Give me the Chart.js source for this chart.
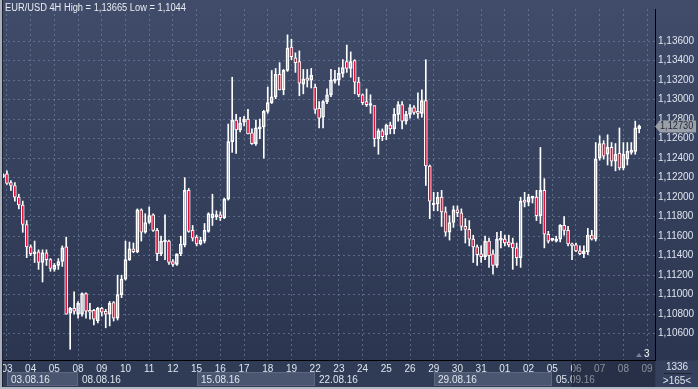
<!DOCTYPE html>
<html>
<head>
<meta charset="utf-8">
<script src="https://cdn.jsdelivr.net/npm/chart.js@4.4.1/dist/chart.umd.min.js"></script>
<style>
  html, body { margin: 0; padding: 0; background: #2f3a55; }
  canvas { display: block; }
</style>
</head>
<body>
<canvas id="chart" width="698" height="389"></canvas>
<script>
// EUR/USD 4H candles, 02.08.16 20:00 .. 08.09.16
const opens = [
  1.1221,1.1224,1.1215,1.1212,1.1200,1.1192,1.1172,1.1149,1.1142,1.1144,
  1.1133,1.1143,1.1136,1.1126,1.1130,1.1134,1.1149,1.1081,1.1086,1.1080,
  1.1080,1.1101,1.1084,1.1084,1.1073,1.1086,1.1083,1.1080,1.1092,1.1076,
  1.1100,1.1116,1.1136,1.1147,1.1144,1.1187,1.1164,1.1174,1.1182,1.1166,
  1.1142,1.1154,1.1155,1.1134,1.1131,1.1142,1.1151,1.1207,1.1166,1.1159,
  1.1152,1.1155,1.1165,1.1179,1.1180,1.1182,1.1179,1.1198,1.1257,1.1279,
  1.1269,1.1277,1.1280,1.1266,1.1255,1.1270,1.1272,1.1288,1.1297,1.1303,
  1.1326,1.1310,1.1330,1.1354,1.1343,1.1339,1.1316,1.1322,1.1320,1.1313,
  1.1291,1.1282,1.1298,1.1305,1.1319,1.1320,1.1327,1.1339,1.1332,1.1340,
  1.1318,1.1305,1.1298,1.1294,1.1294,1.1260,1.1268,1.1264,1.1274,1.1270,
  1.1285,1.1295,1.1278,1.1285,1.1292,1.1287,1.1286,1.1299,1.1232,1.1192,
  1.1193,1.1200,1.1185,1.1164,1.1174,1.1187,1.1184,1.1170,1.1167,1.1157,
  1.1149,1.1142,1.1139,1.1155,1.1142,1.1130,1.1156,1.1157,1.1154,1.1153,
  1.1148,1.1138,1.1197,1.1195,1.1199,1.1200,1.1181,1.1207,1.1162,1.1156,
  1.1155,1.1157,1.1171,1.1166,1.1152,1.1151,1.1145,1.1142,1.1144,1.1161,
  1.1157,1.1240,1.1255,1.1244,1.1251,1.1237,1.1245,1.1230,1.1239,1.1246,
  1.1247,1.1270
]
const highs = [
  1.1224,1.1227,1.1217,1.1215,1.1203,1.1196,1.1176,1.1151,1.1155,1.1146,
  1.1146,1.1146,1.1137,1.1132,1.1137,1.1150,1.1159,1.1087,1.1103,1.1093,
  1.1102,1.1102,1.1091,1.1085,1.1087,1.1087,1.1085,1.1093,1.1093,1.1120,
  1.1120,1.1155,1.1154,1.1153,1.1188,1.1188,1.1183,1.1190,1.1183,1.1168,
  1.1160,1.1182,1.1156,1.1136,1.1140,1.1160,1.1220,1.1209,1.1171,1.1161,
  1.1159,1.1173,1.1184,1.1203,1.1186,1.1185,1.1199,1.1275,1.1323,1.1285,
  1.1282,1.1283,1.1290,1.1270,1.1279,1.1280,1.1289,1.1313,1.1330,1.1332,
  1.1338,1.1331,1.13665,1.1362,1.1348,1.1350,1.1331,1.1331,1.1332,1.1316,
  1.1298,1.1299,1.1311,1.1331,1.1330,1.1333,1.1341,1.1356,1.1349,1.1341,
  1.1323,1.1306,1.1311,1.1305,1.1294,1.1270,1.1270,1.1275,1.1277,1.1291,
  1.1298,1.1298,1.1288,1.1295,1.1294,1.1307,1.1310,1.1341,1.1233,1.1205,
  1.1205,1.1207,1.1190,1.1181,1.1191,1.1191,1.1188,1.1178,1.1176,1.1161,
  1.1151,1.1150,1.1160,1.1158,1.1146,1.1164,1.1165,1.1161,1.1161,1.1158,
  1.1153,1.1200,1.1205,1.1203,1.1201,1.1207,1.1251,1.1219,1.1165,1.1157,
  1.1160,1.1172,1.1180,1.1170,1.1153,1.1153,1.1150,1.1150,1.1168,1.1166,
  1.1256,1.1263,1.1258,1.1264,1.1256,1.1255,1.1271,1.1256,1.1256,1.1256,
  1.1278,1.1274
]
const lows = [
  1.1220,1.1213,1.1207,1.1196,1.1188,1.1164,1.1138,1.1140,1.1133,1.1126,
  1.1113,1.1130,1.1124,1.1124,1.1126,1.1129,1.1080,1.1044,1.1080,1.1076,
  1.1078,1.1076,1.1075,1.1069,1.1071,1.1078,1.1066,1.1068,1.1073,1.1074,
  1.1097,1.1115,1.1135,1.1143,1.1143,1.1155,1.1163,1.1173,1.1165,1.1135,
  1.1140,1.1136,1.1131,1.1129,1.1130,1.1140,1.1149,1.1164,1.1155,1.1150,
  1.1151,1.1153,1.1164,1.1171,1.1177,1.1176,1.1178,1.1197,1.1246,1.1245,
  1.1267,1.1273,1.1265,1.1254,1.1253,1.1260,1.1240,1.1286,1.1296,1.1301,
  1.1310,1.1305,1.1329,1.1341,1.1328,1.1304,1.1306,1.1313,1.1312,1.1286,
  1.1271,1.1271,1.1296,1.1303,1.1317,1.1315,1.1323,1.1328,1.1323,1.1306,
  1.1303,1.1295,1.1293,1.1286,1.1252,1.1244,1.1258,1.1259,1.1265,1.1265,
  1.1278,1.1270,1.1275,1.1281,1.1285,1.1281,1.1282,1.1212,1.1178,1.1186,
  1.1186,1.1170,1.1160,1.1156,1.1169,1.1180,1.1166,1.1153,1.1150,1.1133,
  1.1130,1.1133,1.1136,1.1128,1.1121,1.1128,1.1148,1.1150,1.1149,1.1126,
  1.1130,1.1128,1.1190,1.1191,1.1194,1.1176,1.1173,1.1148,1.1153,1.1155,
  1.1154,1.1154,1.1161,1.1150,1.1136,1.1144,1.1141,1.1138,1.1141,1.1156,
  1.1155,1.1238,1.1239,1.1233,1.1232,1.1227,1.1228,1.1228,1.1233,1.1244,
  1.1244,1.1266
]
const closes = [
  1.1223,1.1214,1.1212,1.1200,1.1192,1.1172,1.1149,1.1142,1.1144,1.1133,
  1.1143,1.1136,1.1127,1.1130,1.1134,1.1148,1.1080,1.1086,1.1083,1.1091,
  1.1101,1.1083,1.1082,1.1075,1.1086,1.1082,1.1080,1.1091,1.1076,1.1100,
  1.1116,1.1136,1.1147,1.1144,1.1187,1.1164,1.1174,1.1181,1.1166,1.1142,
  1.1155,1.1156,1.1133,1.1131,1.1142,1.1152,1.1207,1.1165,1.1158,1.1152,
  1.1156,1.1166,1.1183,1.1183,1.1182,1.1179,1.1198,1.1257,1.1279,1.1269,
  1.1276,1.1280,1.1265,1.1255,1.1271,1.1272,1.1288,1.1297,1.1303,1.1326,
  1.1310,1.1330,1.1353,1.1344,1.1338,1.1317,1.1321,1.1320,1.1325,1.1290,
  1.1281,1.1298,1.1305,1.1320,1.1320,1.1327,1.1333,1.1332,1.1339,1.1318,
  1.1305,1.1297,1.1295,1.1295,1.1260,1.1268,1.1262,1.1274,1.1270,1.1285,
  1.1295,1.1278,1.1285,1.1292,1.1287,1.1286,1.1299,1.1232,1.1196,1.1194,
  1.1200,1.1185,1.1164,1.1174,1.1187,1.1184,1.1170,1.1167,1.1157,1.1149,
  1.1141,1.1139,1.1155,1.1140,1.1130,1.1157,1.1158,1.1153,1.1151,1.1148,
  1.1138,1.1196,1.1195,1.1200,1.1200,1.1181,1.1207,1.1162,1.1155,1.1156,
  1.1157,1.1171,1.1166,1.1152,1.1150,1.1145,1.1142,1.1145,1.1161,1.1157,
  1.1239,1.1255,1.1242,1.1251,1.1237,1.1244,1.1230,1.1244,1.1247,1.1247,
  1.1271,1.1273
]

// x axis: one slot per 4H bar, a few empty slots on the right
const slotCount = 166
const firstDaySlot = 1          // 03.08 00:00
const barsPerDay = 6
const dayLabels = ["03","04","05","08","09","10","11","12","15","16","17","18","19","22",
                   "23","24","25","26","29","30","31","01","02","05","06","07","08","09"]
const weekLabels = ["03.08.16","08.08.16","15.08.16","22.08.16","29.08.16","05.09.16"]
const weekStartDay = [0, 3, 8, 13, 18, 23]   // index into dayLabels
const yTicks = [1.106,1.108,1.110,1.112,1.114,1.116,1.118,1.120,1.122,1.124,1.126,1.128,1.130,1.132,1.134,1.136]
const titleText = "EUR/USD 4H High = 1,13665 Low = 1,1044"

const RED = "#e3113d"
const GRID = "rgba(120,136,168,0.6)"
const TXT = "#dfe5ef"
const FONT = "Liberation Sans, Arial, sans-serif"

const fmt = v => v.toFixed(5).replace(".", ",")
const slotLabels = Array.from({ length: slotCount }, (_, i) => String(i))
const daySlot = k => firstDaySlot + k * barsPerDay
const dayAt = i => {
  const k = (i - firstDaySlot) / barsPerDay
  return Number.isInteger(k) && k >= 0 && k < dayLabels.length ? dayLabels[k] : null
}
const bear = i => closes[i] < opens[i]

const bodies = opens.map((o, i) => [o, closes[i]])
const upperWicks = opens.map((o, i) => [Math.max(o, closes[i]), highs[i]])
const lowerWicks = opens.map((o, i) => [lows[i], Math.min(o, closes[i])])

// backgrounds behind everything
const backdrop = {
  id: "backdrop",
  beforeDraw(chart) {
    const { ctx, chartArea: a, width, height } = chart
    ctx.save()
    ctx.fillStyle = "#323e59"
    ctx.fillRect(0, 0, width, height)
    const g = ctx.createLinearGradient(0, 0, 0, a.bottom)
    g.addColorStop(0, "#404c69")
    g.addColorStop(1, "#2b3550")
    ctx.fillStyle = g
    ctx.fillRect(0, 0, width, a.bottom)
    ctx.fillStyle = "#303b56"
    ctx.fillRect(0, a.bottom, width, height - a.bottom)
    ctx.restore()
  }
}

// date row, price tag, title and frame
const decorations = {
  id: "decorations",
  afterDraw(chart) {
    const { ctx, chartArea: a, scales: { x, y }, width, height } = chart
    ctx.save()

    // week boxes
    ctx.font = "10px " + FONT
    ctx.textBaseline = "middle"
    weekLabels.forEach((lab, w) => {
      const x0 = Math.round(x.getPixelForValue(daySlot(weekStartDay[w])))
      const x1 = w + 1 < weekLabels.length ? Math.round(x.getPixelForValue(daySlot(weekStartDay[w + 1]))) : a.right
      if (w % 2 === 0) {
        ctx.fillStyle = "#4a5670"
        ctx.fillRect(x0, 372, x1 - x0, 14)
        ctx.strokeStyle = "#5c6882"
        ctx.strokeRect(x0 + 0.5, 372.5, x1 - x0 - 1, 13)
      }
      ctx.fillStyle = TXT
      ctx.textAlign = "left"
      ctx.fillText(lab, Math.max(x0, 3) + 4, 380)
    })

    // dimmed part of the time axis (scroll marker)
    const xd = Math.round(x.getPixelForValue(144))
    ctx.fillStyle = "rgba(28,35,52,0.45)"
    ctx.fillRect(xd, a.bottom + 1, a.right - xd, 386 - a.bottom)
    ctx.fillStyle = "#1f2638"
    ctx.fillRect(xd, a.bottom + 1, 1, 386 - a.bottom)

    // bottom-right counter
    ctx.fillStyle = "#35415c"
    ctx.fillRect(a.right + 1, a.bottom + 1, width - a.right - 1, 386 - a.bottom)
    ctx.fillStyle = TXT
    ctx.textAlign = "center"
    ctx.fillText("1336", 677, 367)
    ctx.fillStyle = "#1e2535"
    ctx.fillRect(664, 373, 28, 1)
    ctx.fillStyle = TXT
    ctx.fillText(">165<", 677, 381)

    // "3" marker in the corner of the plot
    ctx.fillStyle = "#7a8294"
    ctx.beginPath()
    ctx.moveTo(636, 357); ctx.lineTo(639, 353); ctx.lineTo(642, 357); ctx.closePath()
    ctx.fill()
    ctx.fillStyle = "#f2f4f8"
    ctx.textAlign = "left"
    ctx.fillText("3", 644, 354)

    // last price tag
    const last = closes[closes.length - 1]
    const py = Math.round(y.getPixelForValue(last)) + 0.5
    ctx.fillStyle = "#9a9fa8"
    ctx.beginPath()
    ctx.moveTo(655, py)
    ctx.lineTo(660, py - 6)
    ctx.lineTo(696, py - 6)
    ctx.lineTo(696, py + 6)
    ctx.lineTo(660, py + 6)
    ctx.closePath()
    ctx.fill()
    ctx.save()
    ctx.translate(660, py)
    ctx.scale(0.92, 1)
    ctx.fillStyle = "#232938"
    ctx.textAlign = "left"
    ctx.font = "10px " + FONT
    ctx.fillText(fmt(last), 0, 0)
    ctx.restore()

    // title
    ctx.save()
    ctx.translate(5, 8)
    ctx.scale(0.93, 1)
    ctx.font = "10px " + FONT
    ctx.fillStyle = "#e9edf3"
    ctx.textAlign = "left"
    ctx.fillText(titleText, 0, 0)
    ctx.restore()

    // window frame
    ctx.fillStyle = "#a9b0bc"
    ctx.fillRect(0, 0, 2, height)
    ctx.fillStyle = "#1c2333"
    ctx.fillRect(2, 0, 1, 387)
    ctx.fillStyle = "#b3b9c4"
    ctx.fillRect(0, 387, width, 2)
    ctx.restore()
  }
}

new Chart(document.getElementById("chart"), {
  type: "bar",
  data: {
    labels: slotLabels,
    datasets: [
      {
        label: "body",
        data: bodies,
        barThickness: 3,
        minBarLength: 2,
        borderWidth: 1,
        borderSkipped: false,
        borderColor: "#ffffff",
        backgroundColor: c => bear(c.dataIndex) ? RED : "rgba(0,0,0,0)",
        grouped: false,
        order: 1
      },
      {
        label: "upper wick",
        data: upperWicks,
        barThickness: 1,
        backgroundColor: "#ffffff",
        grouped: false,
        order: 2
      },
      {
        label: "lower wick",
        data: lowerWicks,
        barThickness: 1,
        backgroundColor: "#ffffff",
        grouped: false,
        order: 2
      }
    ]
  },
  options: {
    responsive: false,
    animation: false,
    events: [],
    layout: { padding: { left: 3, top: 0, right: 0, bottom: 0 } },
    plugins: { legend: { display: false }, tooltip: { enabled: false } },
    scales: {
      x: {
        type: "category",
        offset: false,
        grid: {
          offset: false,
          drawTicks: false,
          tickLength: 0,
          color: c => dayAt(c.index) ? GRID : "rgba(0,0,0,0)"
        },
        border: { display: true, color: "#000000", width: 1, dash: [2, 3] },
        ticks: {
          autoSkip: false,
          maxRotation: 0,
          minRotation: 0,
          padding: 3,
          color: TXT,
          font: { family: FONT, size: 10 },
          callback: (v, i) => dayAt(i) || ""
        },
        afterFit: s => { s.height = 29 }
      },
      y: {
        position: "right",
        min: 1.1033,
        max: 1.1393,
        afterBuildTicks: s => { s.ticks = yTicks.map(v => ({ value: v })) },
        grid: { color: GRID, drawTicks: false, tickLength: 0 },
        border: { display: true, color: "#000000", width: 1, dash: [2, 3] },
        ticks: {
          padding: 3,
          color: TXT,
          font: { family: FONT, size: 10 },
          callback: v => fmt(v)
        },
        afterFit: s => { s.width = 43 }
      }
    }
  },
  plugins: [backdrop, decorations]
})
</script>
</body>
</html>
